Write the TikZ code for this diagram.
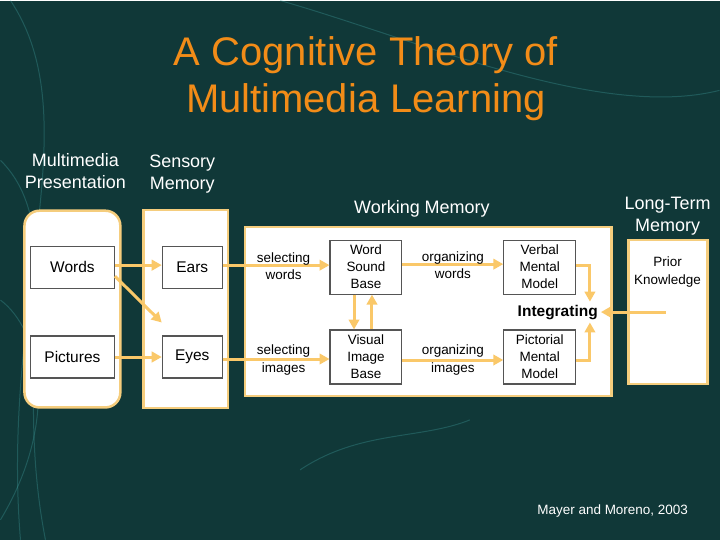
\documentclass[tikz,border=0pt]{standalone}
\usepackage{fontspec}
\setmainfont{Liberation Sans}
\usetikzlibrary{arrows.meta,positioning}
\definecolor{bgteal}{RGB}{16,56,56}
\definecolor{swirlteal}{RGB}{70,170,170}
\definecolor{titleorange}{RGB}{242,140,24}
\definecolor{linkgold}{RGB}{250,200,105}
\definecolor{framegold}{RGB}{245,205,125}
\definecolor{boxgray}{RGB}{85,85,85}
\begin{document}
\begin{tikzpicture}[x=1pt,y=-1pt,>={Triangle[length=10pt,width=10.5pt]},
		flow/.style={->,draw=linkgold,line width=3pt},
		stage/.style={draw=framegold,fill=white,line width=2.5pt},
		unit node/.style={draw=boxgray,fill=white,line width=1.1pt,minimum width=60pt,minimum height=42pt,align=center,font=\fontsize{15.5}{17}\selectfont},
		model node/.style={draw=boxgray,fill=white,line width=1.1pt,minimum width=72pt,minimum height=54pt,align=center,inner sep=1pt,font=\fontsize{13.5}{17}\selectfont},
		head/.style={text=white,align=center,font=\fontsize{18}{22}\selectfont},
		cue/.style={align=center,font=\fontsize{13.5}{17.5}\selectfont},
		swirl/.style={draw=swirlteal,opacity=0.3,line width=1pt}]
		% 背景
		\fill[bgteal] (0,0) rectangle (720,540);
		\draw[swirl] (0,160) .. controls (70,230) and (10,360) .. (45,540);
		\draw[swirl] (10,0) .. controls (90,120) and (0,300) .. (20,540);
		\draw[swirl] (0,300) .. controls (40,330) and (60,420) .. (0,520);
		\draw[swirl] (280,0) .. controls (420,40) and (600,120) .. (720,90);
		\draw[swirl] (300,470) .. controls (360,430) and (420,440) .. (470,420);
		\node[text=titleorange,align=center,font=\fontsize{40}{47}\selectfont] (title) at (366,78) {A Cognitive Theory of\\Multimedia Learning};
		% 各存储区
		\node[stage,rounded corners=15pt,minimum width=96pt,minimum height=197pt] (present) at (72,309) {};
		\node[stage,minimum width=85pt,minimum height=198pt] (sensory) at (185.5,309) {};
		\node[stage,minimum width=367pt,minimum height=169pt] (working) at (428.5,311.5) {};
		\node[stage,minimum width=79pt,minimum height=144pt] (longterm) at (668.5,312) {};
		\node[head] (hpresent) at (75,171) {Multimedia\\Presentation};
		\node[head] (hsensory) at (182,174) {Sensory\\Memory};
		\node[head] (hworking) at (422,209) {Working Memory};
		\node[head] (hlongterm) at (668,216) {Long-Term\\Memory};
		% 内部方框
		\node[unit node,minimum width=84pt] (words) at (72,267) {Words};
		\node[unit node,minimum width=84pt] (pictures) [below of=words,node distance=90pt] {Pictures};
		\node[unit node] (ears) [right of=words,node distance=120pt] {Ears};
		\node[unit node] (eyes) [below of=ears,node distance=90pt] {Eyes};
		\node[model node] (wsb) at (366,267) {Word\\Sound\\Base};
		\node[model node] (vib) [below of=wsb,node distance=90pt] {Visual\\Image\\Base};
		\node[model node] (vmm) [right of=wsb,node distance=174pt] {Verbal\\Mental\\Model};
		\node[model node] (pmm) [below of=vmm,node distance=90pt] {Pictorial\\Mental\\Model};
		\node[font=\bfseries\fontsize{15.5}{17}\selectfont,inner sep=3pt] (integ) at (558,312) {Integrating};
		\node[cue] (prior) at (668,272) {Prior\\Knowledge};
		\coordinate (pk) at (666,312);
		\node[text=white,font=\fontsize{13.5}{15}\selectfont] (cite) at (613,511) {Mayer and Moreno, 2003};
		% 连线
		\draw[flow] ([yshift=2pt]words.east) -- ([yshift=2pt]ears.west);
		\draw[flow] ([yshift=-9pt]words.east) -- ([yshift=13pt]eyes.north west);
		\draw[flow] (pictures.east) -- (eyes.west);
		\draw[flow] ([yshift=2pt]ears.east) -- node[cue,pos=0.57,yshift=-1pt] {selecting\\words} ([yshift=2pt]wsb.west);
		\draw[flow] ([yshift=-2pt]eyes.east) -- node[cue,pos=0.57,yshift=-1pt] {selecting\\images} ([yshift=-2pt]vib.west);
		\draw[flow] ([yshift=3pt]wsb.east) -- node[cue,yshift=-1pt] {organizing\\words} ([yshift=3pt]vmm.west);
		\draw[flow] ([yshift=-3pt]vib.east) -- node[cue,yshift=0pt] {organizing\\images} ([yshift=-3pt]pmm.west);
		\draw[flow] ([xshift=-12pt]wsb.south) -- ([xshift=-12pt]vib.north);
		\draw[flow] ([xshift=6pt]vib.north) -- ([xshift=6pt]wsb.south);
		\draw[flow] ([yshift=2pt]vmm.east) -| ([xshift=-11pt]integ.north east);
		\draw[flow] ([yshift=-3pt]pmm.east) -| ([xshift=-11pt]integ.south east);
		\draw[flow] (pk) -- (integ.east);
\end{tikzpicture}
\end{document}
